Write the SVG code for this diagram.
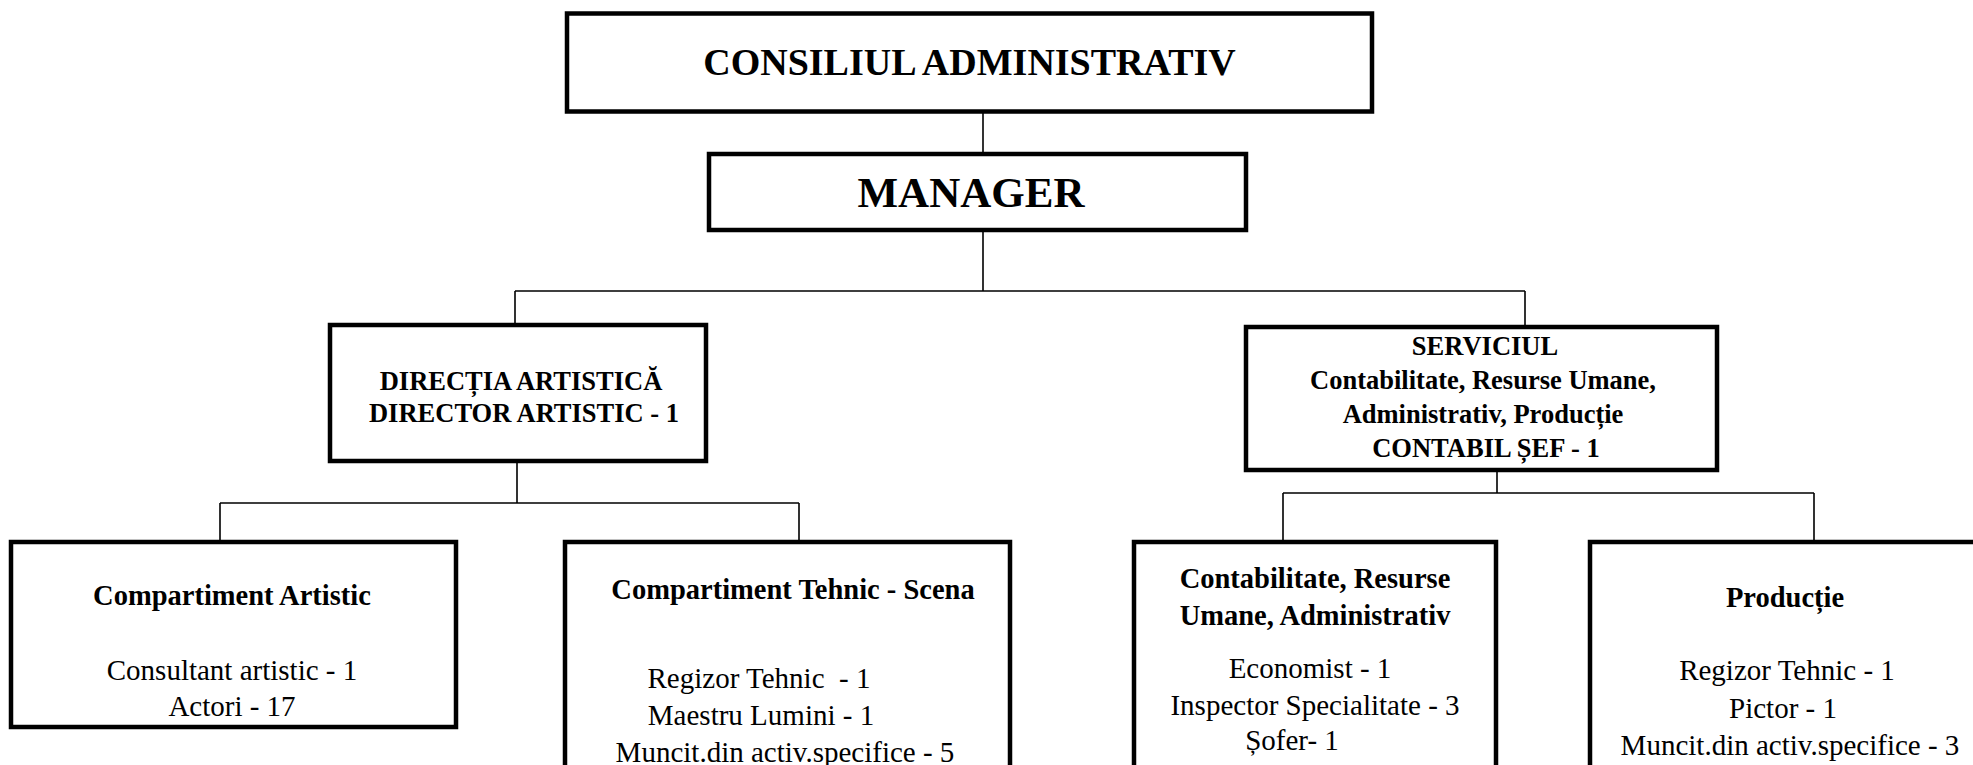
<svg xmlns="http://www.w3.org/2000/svg" width="1973" height="765" viewBox="0 0 1973 765">
<style>
.box{fill:#fff;stroke:#000;stroke-width:4.5}
.c{fill:none;stroke:#000;stroke-width:1.6}
text{font-family:"Liberation Serif","Times New Roman",serif;fill:#000;text-anchor:middle}
.b{font-weight:bold}
.h1{font-size:38px}
.h0{font-size:43px}
.h2{font-size:26.5px}
.h3{font-size:26.5px}
.t{font-size:28.5px}
.r{font-size:29px}
</style>
<rect width="1973" height="765" fill="#fff"/>
<g id="connectors">
<path class="c" d="M983,111.5V154"/>
<path class="c" d="M983,230V291M515,291H1525M515,291V325M1525,291V327"/>
<path class="c" d="M517,461V503M220,503H799M220,503V542M799,503V542"/>
<path class="c" d="M1497,470V493M1283,493H1814M1283,493V542M1814,493V542"/>
</g>
<g id="consiliul">
<rect class="box" x="567" y="13.5" width="805" height="98"/>
<text class="b h1" x="969.5" y="75">CONSILIUL ADMINISTRATIV</text>
</g>
<g id="manager">
<rect class="box" x="709" y="154" width="537" height="76"/>
<text class="b h0" x="971" y="207">MANAGER</text>
</g>
<g id="directia">
<rect class="box" x="330" y="325" width="376" height="136"/>
<text class="b h2" x="521" y="390">DIRECȚIA ARTISTICĂ</text>
<text class="b h2" x="524" y="422">DIRECTOR ARTISTIC - 1</text>
</g>
<g id="serviciul">
<rect class="box" x="1246" y="327" width="471" height="143"/>
<text class="b h3" x="1485" y="355">SERVICIUL</text>
<text class="b h3" x="1483" y="389">Contabilitate, Resurse Umane,</text>
<text class="b h3" x="1483" y="423">Administrativ, Producție</text>
<text class="b h3" x="1486" y="457">CONTABIL ȘEF - 1</text>
</g>
<g id="artistic">
<rect class="box" x="11" y="542" width="445" height="185"/>
<text class="b t" x="232" y="605">Compartiment Artistic</text>
<text class="r" x="232" y="680">Consultant artistic - 1</text>
<text class="r" x="232" y="716">Actori - 17</text>
</g>
<g id="tehnic">
<rect class="box" x="565" y="542" width="445" height="240"/>
<text class="b t" x="793" y="599">Compartiment Tehnic - Scena</text>
<text class="r" x="759" y="688" xml:space="preserve">Regizor Tehnic  - 1</text>
<text class="r" x="761" y="725">Maestru Lumini - 1</text>
<text class="r" x="785" y="762">Muncit.din activ.specifice - 5</text>
</g>
<g id="contabilitate">
<rect class="box" x="1134" y="542" width="362" height="240"/>
<text class="b t" x="1315" y="588">Contabilitate, Resurse</text>
<text class="b t" x="1315" y="625">Umane, Administrativ</text>
<text class="r" x="1310" y="678">Economist - 1</text>
<text class="r" x="1315" y="715">Inspector Specialitate - 3</text>
<text class="r" x="1292" y="750">Șofer- 1</text>
</g>
<g id="productie">
<rect class="box" x="1590" y="542" width="400" height="240"/>
<text class="b t" x="1785" y="607">Producție</text>
<text class="r" x="1787" y="680">Regizor Tehnic - 1</text>
<text class="r" x="1783" y="718">Pictor - 1</text>
<text class="r" x="1790" y="755">Muncit.din activ.specifice - 3</text>
</g>
</svg>
